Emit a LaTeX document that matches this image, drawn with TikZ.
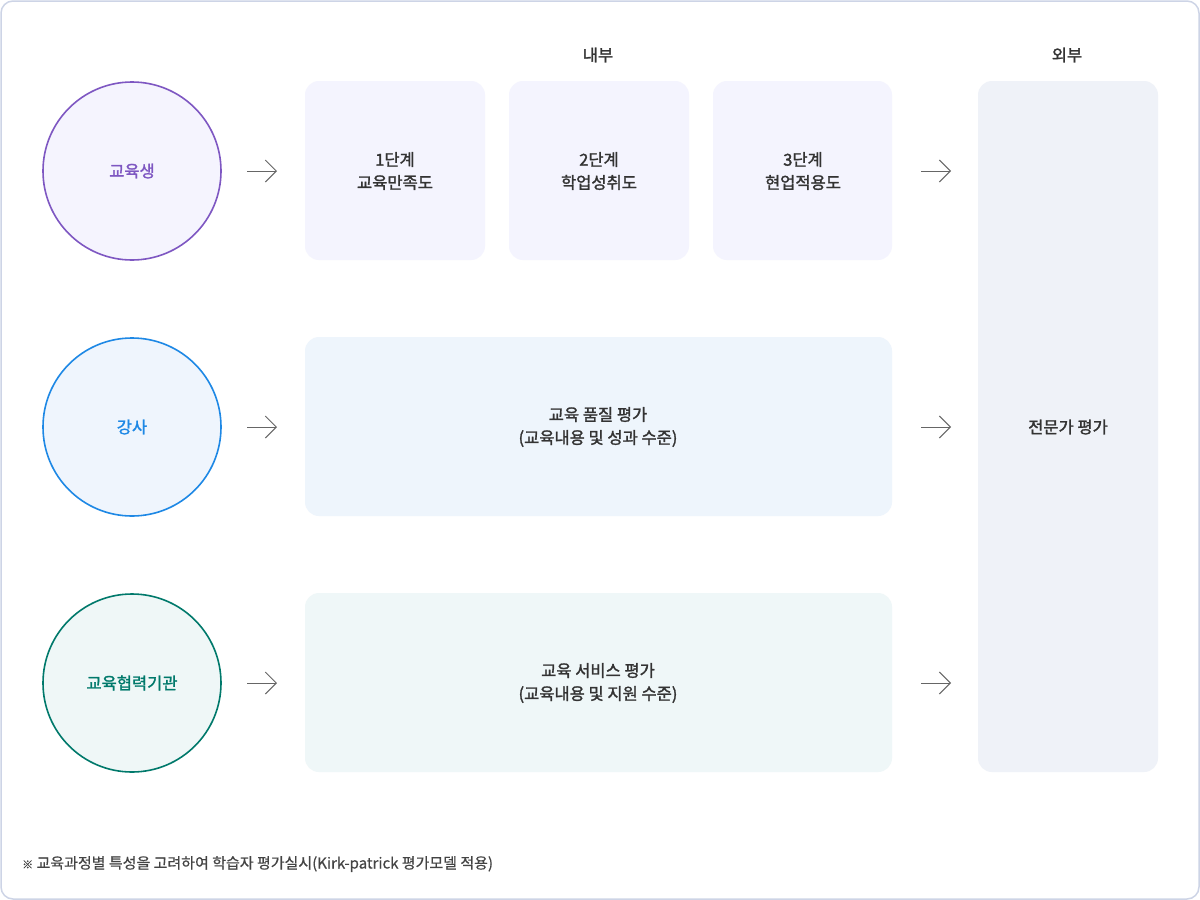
\documentclass[tikz,border=0pt]{standalone}
\usepackage{fontspec}
\setmainfont{Noto Sans CJK KR}
\newfontfamily\medfont[FakeBold=1.6]{Noto Sans CJK KR}
\newfontfamily\regfont[FakeBold=0.6]{Noto Sans CJK KR}
\usetikzlibrary{arrows.meta}
\definecolor{framec}{HTML}{CDD4E6}
\definecolor{purp}{HTML}{7E57C2}
\definecolor{purpbg}{HTML}{F5F4FE}
\definecolor{bluec}{HTML}{1E88E5}
\definecolor{bluebg}{HTML}{EFF5FD}
\definecolor{tealc}{HTML}{00796B}
\definecolor{tealbg}{HTML}{EFF7F7}
\definecolor{boxa}{HTML}{F4F4FE}
\definecolor{boxb}{HTML}{EEF5FC}
\definecolor{boxc}{HTML}{EFF7F8}
\definecolor{boxd}{HTML}{EFF2F8}
\definecolor{txt}{HTML}{333333}
\definecolor{foottxt}{HTML}{444444}
\definecolor{arr}{HTML}{666666}
\begin{document}
\begin{tikzpicture}[x=1pt,y=-1pt,
  circ/.style={circle,line width=1.6pt,minimum size=178pt,inner sep=0pt,font=\medfont\fontsize{16.5}{20}\selectfont},
  lbl/.style={font=\medfont\fontsize{16.5}{23}\selectfont,text=txt,align=center},
  conn/.style={draw=arr,line width=1pt,-{Straight Barb[length=11pt,width=22pt,line width=1pt]}}]
\useasboundingbox (0,0) rectangle (1200,900);
\draw[framec,line width=1.5pt,rounded corners=12pt,fill=white] (1,1) rectangle (1199,899);
% headers
\node[lbl] (hin) at (598,55) {내부};
\node[lbl] (hout) at (1067,55) {외부};
% circles
\node[circ,draw=purp,fill=purpbg,text=purp] (c1) at (132,171) {교육생};
\node[circ,draw=bluec,fill=bluebg,text=bluec] (c2) at (132,427) {강사};
\node[circ,draw=tealc,fill=tealbg,text=tealc] (c3) at (132,683) {교육협력기관};
% boxes
\fill[boxa,rounded corners=14pt] (305,81) rectangle (485,260);
\fill[boxa,rounded corners=14pt] (509,81) rectangle (689,260);
\fill[boxa,rounded corners=14pt] (713,81) rectangle (892,260);
\fill[boxb,rounded corners=14pt] (305,337) rectangle (892,516);
\fill[boxc,rounded corners=14pt] (305,593) rectangle (892,772);
\fill[boxd,rounded corners=14pt] (978,81) rectangle (1158,772);
\node[lbl] (b1) at (395,171) {1단계\\교육만족도};
\node[lbl] (b2) at (599,171) {2단계\\학업성취도};
\node[lbl] (b3) at (803,171) {3단계\\현업적용도};
\node[lbl] (b4) at (598,427) {교육 품질 평가\\(교육내용 및 성과 수준)};
\node[lbl] (b5) at (598,683) {교육 서비스 평가\\(교육내용 및 지원 수준)};
\node[lbl] (b6) at (1068,427) {전문가 평가};
% arrows
\foreach \y/\n in {171/a,427/b,683/c}{
  \coordinate (l\n s) at (247,\y); \coordinate (l\n e) at (277,\y);
  \coordinate (r\n s) at (921,\y); \coordinate (r\n e) at (951,\y);
  \draw[conn] (l\n s) -- (l\n e);
  \draw[conn] (r\n s) -- (r\n e);
}
% footnote
\node[anchor=west,font=\regfont\fontsize{15}{18}\selectfont,text=foottxt,inner sep=0pt] (foot) at (22,864) {{\fontsize{11}{18}\selectfont ※} 교육과정별 특성을 고려하여 학습자 평가실시(Kirk-patrick 평가모델 적용)};
\end{tikzpicture}
\end{document}
